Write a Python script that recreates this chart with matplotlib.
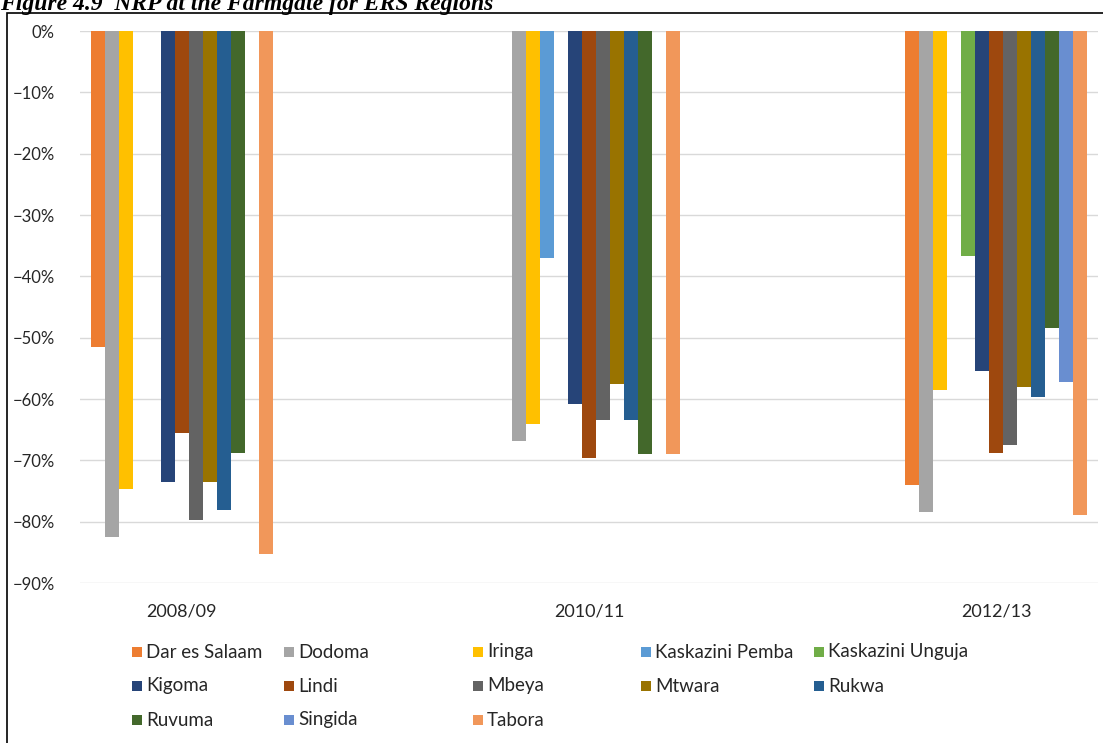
import numpy as np
import matplotlib
matplotlib.use("Agg")
import matplotlib.pyplot as plt
from matplotlib.patches import Rectangle
from matplotlib.ticker import FuncFormatter

nan = np.nan

years = ["2008/09", "2010/11", "2012/13"]

regions = ["Dar es Salaam", "Dodoma", "Iringa", "Kaskazini Pemba",
           "Kaskazini Unguja", "Kigoma", "Lindi", "Mbeya", "Mtwara",
           "Rukwa", "Ruvuma", "Singida", "Tabora"]

# NRP values (%) per region, one entry per year; nan = no data
dar_es_salaam = [-51.5, nan, -74.0]
dodoma = [-82.5, -66.9, -78.5]
iringa = [-74.6, -64.0, -58.5]
kaskazini_pemba = [nan, -37.0, nan]
kaskazini_unguja = [nan, nan, -36.7]
kigoma = [-73.6, -60.8, -55.4]
lindi = [-65.6, -69.6, -68.8]
mbeya = [-79.7, -63.5, -67.5]
mtwara = [-73.5, -57.6, -58.1]
rukwa = [-78.1, -63.5, -59.6]
ruvuma = [-68.8, -69.0, -48.5]
singida = [nan, nan, -57.2]
tabora = [-85.2, -69.0, -78.9]

series = [dar_es_salaam, dodoma, iringa, kaskazini_pemba, kaskazini_unguja,
          kigoma, lindi, mbeya, mtwara, rukwa, ruvuma, singida, tabora]

colors = ["#ED7D31", "#A5A5A5", "#FFC000", "#5B9BD5", "#70AD47",
          "#264478", "#9E480E", "#636363", "#997300", "#255E91",
          "#43682B", "#698ED0", "#F1975A"]

yticks = [0, -10, -20, -30, -40, -50, -60, -70, -80, -90]

W, H = 1103, 743
fig = plt.figure(figsize=(W / 100, H / 100), dpi=100)
fig.patch.set_facecolor("white")

font = "Lato"

# chart frame
fig.add_artist(Rectangle((7 / W, -0.01), 1.2, 1 - 13 / H + 0.01,
                         transform=fig.transFigure, fill=False,
                         edgecolor="black", linewidth=1.2))

# caption above the chart (runs off the top edge)
fig.text(0.0, 1 - 10 / H, "Figure 4.9  NRP at the Farmgate for ERS Regions",
         family="Liberation Serif", weight="bold", style="italic",
         fontsize=17, ha="left", va="baseline", color="black")

ax = fig.add_axes([80 / W, 1 - 583 / H, 1018 / W, 552 / H])
ax.set_facecolor("none")

n = len(series)
bw = 14 / 407
x = np.arange(len(years))
for i, (vals, col) in enumerate(zip(series, colors)):
    ax.bar(x + (i - (n - 1) / 2) * bw, np.array(vals, dtype=float), width=bw,
           color=col, linewidth=0, zorder=3)

ax.set_xlim(-0.25, 2.25)
ax.set_ylim(-90, 0)
ax.set_yticks(yticks)
ax.yaxis.set_major_formatter(
    FuncFormatter(lambda v, p: f"{v:.0f}%".replace("-", "\u2212")))
ax.grid(axis="y", color="#D9D9D9", linewidth=1.0, zorder=0)
ax.set_xticks(x)
ax.set_xticklabels(years)
for s in ax.spines.values():
    s.set_visible(False)
ax.tick_params(axis="both", length=0, colors="#262626")
ax.tick_params(axis="y", pad=18, labelsize=12)
ax.tick_params(axis="x", pad=15, labelsize=13)
for lbl in ax.get_xticklabels() + ax.get_yticklabels():
    lbl.set_family(font)

# legend laid out row by row, five entries per row
col_x = [132, 284, 473, 641, 814]
row_y = [652, 686, 720]
sq = 10
for i, (name, col) in enumerate(zip(regions, colors)):
    r, c = divmod(i, 5)
    px, py = col_x[c], row_y[r]
    fig.add_artist(Rectangle((px / W, 1 - (py + sq / 2) / H), sq / W, sq / H,
                             transform=fig.transFigure, facecolor=col,
                             edgecolor="none"))
    fig.text((px + sq + 4) / W, 1 - py / H, name, family=font, fontsize=13.5,
             color="#262626", ha="left", va="center")

fig.savefig("out.png", dpi=100, facecolor="white")
